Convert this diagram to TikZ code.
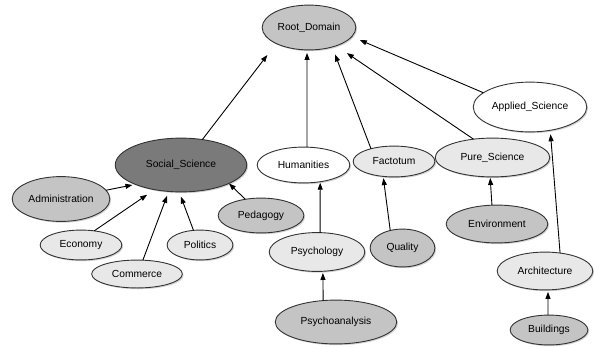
\documentclass[tikz,border=0pt]{standalone}
\usepackage{fontspec}
\setmainfont{Liberation Sans}
\usetikzlibrary{shapes.geometric, shadows, arrows.meta}

\begin{document}
\begin{tikzpicture}[x=1bp, y=-1bp, line width=0.9bp, >={Triangle[length=7bp, width=5bp]},
  concept/.style={ellipse, draw=black!80, inner sep=0pt, outer sep=0pt,
    font=\fontsize{10.3}{12}\selectfont,
    drop shadow={shadow xshift=1.3bp, shadow yshift=-1.3bp, opacity=0.35}},
  whitenode/.style={concept, fill=white},
  lightnode/.style={concept, fill=black!9},
  midnode/.style={concept, fill=black!23},
  darknode/.style={concept, fill=black!52}]

\useasboundingbox (0,0) rectangle (594,347);

\node (root) [midnode, minimum width=94, minimum height=45] at (309,27.5) {Root\_Domain};
\node (social) [darknode, minimum width=132, minimum height=54] at (181,165) {Social\_Science};
\node (admin) [midnode, minimum width=98, minimum height=45] at (61,199) {Administration};
\node (economy) [lightnode, minimum width=82, minimum height=30] at (81,245) {Economy};
\node (commerce) [lightnode, minimum width=91, minimum height=28] at (137,274) {Commerce};
\node (politics) [lightnode, minimum width=66, minimum height=30] at (200,245) {Politics};
\node (pedagogy) [midnode, minimum width=86, minimum height=35] at (261,215.5) {Pedagogy};
\node (humanities) [whitenode, minimum width=93, minimum height=36] at (303.5,165) {Humanities};
\node (factotum) [lightnode, minimum width=82, minimum height=31] at (394,161.5) {Factotum};
\node (pure) [lightnode, minimum width=115, minimum height=39] at (492.5,157.5) {Pure\_Science};
\node (applied) [whitenode, minimum width=114, minimum height=50] at (530,107) {Applied\_Science};
\node (psychology) [lightnode, minimum width=96, minimum height=39] at (317,252) {Psychology};
\node (psychoanalysis) [midnode, minimum width=122, minimum height=44] at (336,322) {Psychoanalysis};
\node (quality) [midnode, minimum width=65, minimum height=38] at (402.5,248) {Quality};
\node (environment) [midnode, minimum width=102, minimum height=38] at (497,224) {Environment};
\node (architecture) [lightnode, minimum width=96, minimum height=38] at (545,271) {Architecture};
\node (buildings) [midnode, minimum width=78, minimum height=30] at (549,330) {Buildings};

\draw[->, shorten >=14.5bp] (social.50) -- (root.206);
\draw[->, shorten >=3bp] (humanities.79) -- (root.265);
\draw[->, shorten >=8bp] (factotum.151) -- (root.-40);
\draw[->, shorten >=13bp] (pure.136) -- (root.-34);
\draw[->, shorten >=8.7bp] (applied.163) -- (root.-12);
\draw[->, shorten >=3bp] (admin.11) -- (social.203);
\draw[->, shorten >=9bp] (economy.47) -- (social.223);
\draw[->, shorten >=4.7bp] (commerce.67) -- (social.245);
\draw[->, shorten >=5bp] (politics.114) -- (social.266);
\draw[->] (pedagogy.134) -- (social.-21);
\draw[->, shorten >=1bp] (psychology.81) -- (humanities.-45.5);
\draw[->, shorten >=1.7bp] (psychoanalysis.121) -- (psychology.-73);
\draw[->, shorten >=1.7bp] (quality.125.5) -- (factotum.234);
\draw[->, shorten >=1bp] (environment.105) -- (pure.263);
\draw[->, shorten >=4bp] (architecture.50) -- (applied.-49.5);
\draw[->, shorten >=2bp] (buildings.94) -- (architecture.-81);

\end{tikzpicture}
\end{document}
